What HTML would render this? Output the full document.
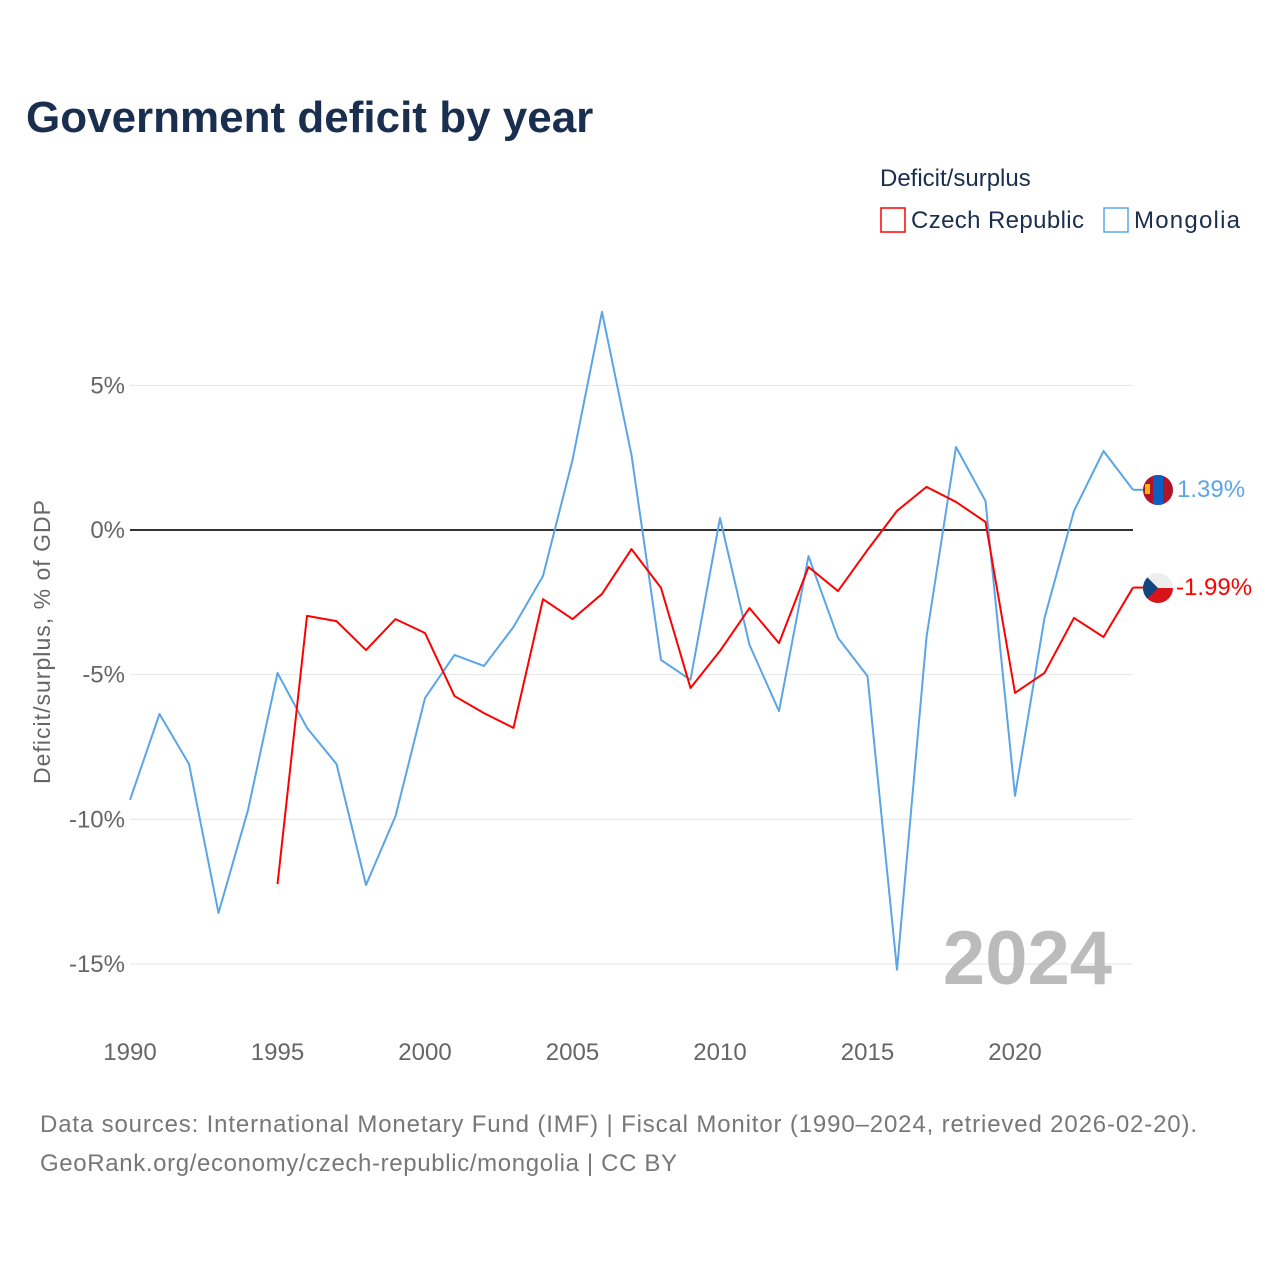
<!DOCTYPE html>
<html><head><meta charset="utf-8"><style>
body{margin:0;background:#fff;font-family:"Liberation Sans",sans-serif}
</style></head><body>
<svg id="chart" width="1280" height="1280" xmlns="http://www.w3.org/2000/svg">
<text x="26" y="132" font-size="44" font-weight="bold" fill="#1a2e4f">Government deficit by year</text>
<text x="880" y="186" font-size="24" fill="#1a2e4f">Deficit/surplus</text>
<g><rect x="881" y="208" width="24" height="24" fill="none" stroke="#ff0000" stroke-width="1.5"/><text x="911" y="228" font-size="24" fill="#1a2e4f" textLength="173">Czech Republic</text></g>
<g><rect x="1104" y="208" width="24" height="24" fill="none" stroke="#5aa5e8" stroke-width="1.5"/><text x="1134" y="228" font-size="24" fill="#1a2e4f" textLength="106">Mongolia</text></g>
<text transform="translate(50,642) rotate(-90)" text-anchor="middle" font-size="23" fill="#666" textLength="284">Deficit/surplus, % of GDP</text>
<g id="grid"></g><g id="yticks"></g><g id="xticks"></g>
<text x="1112" y="984" text-anchor="end" font-size="76" font-weight="bold" fill="#bbb">2024</text>
<g id="lines"></g>
<g><clipPath id="c1"><circle cx="1158" cy="490" r="15"/></clipPath><g clip-path="url(#c1)"><rect x="1143" y="475" width="30" height="30" fill="#b0142a"/><rect x="1153" y="475" width="10" height="30" fill="#0a5fc2"/><rect x="1145" y="484" width="5" height="10" fill="#f5b800"/></g></g>
<g><clipPath id="c2"><circle cx="1158" cy="588" r="15"/></clipPath><g clip-path="url(#c2)"><rect x="1143" y="573" width="30" height="15" fill="#eee"/><rect x="1143" y="588" width="30" height="15" fill="#d7141a"/><polygon points="1143,573 1158,588 1143,603" fill="#11457e"/></g></g>
<text x="1177" y="497" font-size="24" fill="#5aa5e8">1.39%</text>
<text x="1176" y="595" font-size="24" fill="#ff0000">-1.99%</text>
<text x="40" y="1132" font-size="24" fill="#777" textLength="1157">Data sources: International Monetary Fund (IMF) | Fiscal Monitor (1990–2024, retrieved 2026-02-20).</text>
<text x="40" y="1171" font-size="24" fill="#777" textLength="637">GeoRank.org/economy/czech-republic/mongolia | CC BY</text>
</svg>
<script>
const mongoliaYears=[1990,1991,1992,1993,1994,1995,1996,1997,1998,1999,2000,2001,2002,2003,2004,2005,2006,2007,2008,2009,2010,2011,2012,2013,2014,2015,2016,2017,2018,2019,2020,2021,2022,2023,2024];
const mongoliaValues=[-9.33,-6.36,-8.09,-13.24,-9.68,-4.94,-6.84,-8.09,-12.27,-9.89,-5.81,-4.32,-4.70,-3.35,-1.59,2.42,7.54,2.59,-4.49,-5.18,0.41,-3.97,-6.26,-0.90,-3.73,-5.05,-15.2,-3.70,2.87,1.0,-9.19,-3.04,0.66,2.73,1.39];
const czechYears=[1995,1996,1997,1998,1999,2000,2001,2002,2003,2004,2005,2006,2007,2008,2009,2010,2011,2012,2013,2014,2015,2016,2017,2018,2019,2020,2021,2022,2023,2024];
const czechValues=[-12.24,-2.97,-3.15,-4.15,-3.08,-3.56,-5.74,-6.33,-6.84,-2.39,-3.08,-2.21,-0.66,-2.0,-5.46,-4.18,-2.70,-3.91,-1.28,-2.11,-0.69,0.66,1.49,0.97,0.28,-5.63,-4.94,-3.04,-3.70,-1.99];
const yTicks=[5,0,-5,-10,-15];
const yTickLabels=["5%","0%","-5%","-10%","-15%"];
const xTicks=[1990,1995,2000,2005,2010,2015,2020];
const NS="http://www.w3.org/2000/svg";
const xs=y=>130+(y-1990)*29.5;
const ys=v=>530-v*28.93;
function mk(t,a,p){const e=document.createElementNS(NS,t);for(const k in a)e.setAttribute(k,a[k]);document.getElementById(p).appendChild(e);return e;}
yTicks.forEach((v,i)=>{
 const l=mk('line',{x1:130,x2:1133,y1:ys(v),y2:ys(v),stroke:v===0?'#333':'#e6e6e6','stroke-width':v===0?2:1},'grid');
 
 
 const t=mk('text',{x:125,y:ys(v)+8,'text-anchor':'end','font-size':24,fill:'#666'},'yticks');
 t.textContent=yTickLabels[i];
 
 
});
xTicks.forEach(y=>{
 const t=mk('text',{x:xs(y),y:1060,'text-anchor':'middle','font-size':24,fill:'#666'},'xticks');
 t.textContent=y;
 
 
});
function line(yrs,vals,c,n){
 const p=mk('polyline',{points:yrs.map((y,i)=>xs(y)+','+ys(vals[i])).join(' '),fill:'none',stroke:c,'stroke-width':2,'stroke-linejoin':'round'},'lines');
 
 
 const l=yrs.length-1;
 mk('line',{x1:xs(yrs[l]),x2:xs(yrs[l])+10,y1:ys(vals[l]),y2:ys(vals[l]),stroke:c,'stroke-width':2},'lines');
}
line(mongoliaYears,mongoliaValues,'#5aa5e8','mongolia-line');
line(czechYears,czechValues,'#ff0000','czech-line');
</script>
</body></html>
